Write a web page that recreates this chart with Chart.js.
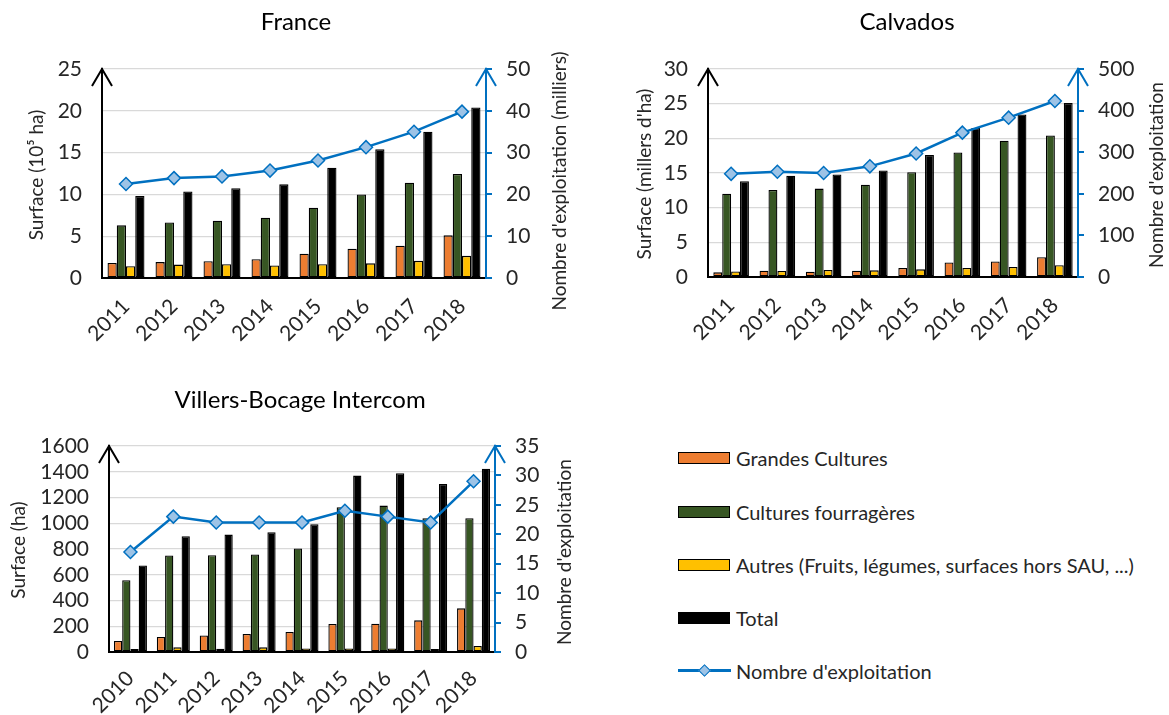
<!DOCTYPE html>
<html lang="fr">
<head>
<meta charset="utf-8">
<title>Surfaces et exploitations</title>
<script src="https://cdn.jsdelivr.net/npm/chart.js@4.4.1/dist/chart.umd.min.js"></script>
<style>
  html, body { margin: 0; padding: 0; background: #fff; }
  body { width: 1169px; height: 715px; position: relative; overflow: hidden;
         font-family: Lato, "Open Sans", sans-serif; }
  .box { position: absolute; }
  .legend { position: absolute; left: 678px; top: 440px; color: #262626; font-size: 20px; }
  .item { position: absolute; left: 0; height: 30px; width: 490px; }
  .sw { position: absolute; left: 0; top: 9px; width: 50px; height: 10px; border: 1.5px solid #000; }
  .lbl { position: absolute; left: 58px; top: 0; line-height: 30px; white-space: nowrap; }
  .ln { position: absolute; left: 0; top: 13px; width: 53px; height: 2.5px; background: #0070C0; }
  .dm { position: absolute; left: 22px; top: 10px; width: 7px; height: 7px; background: #9DC3E6;
        border: 1.3px solid #0070C0; transform: rotate(45deg); }
</style>
</head>
<body>
<div class="box" style="left:0;top:0;width:590px;height:360px"><canvas id="cFrance"></canvas></div>
<div class="box" style="left:600px;top:0;width:569px;height:360px"><canvas id="cCalvados"></canvas></div>
<div class="box" style="left:0;top:370px;width:600px;height:345px"><canvas id="cVillers"></canvas></div>

<div class="legend">
  <div class="item" style="top:3px"><div class="sw" style="background:#ED7D31"></div><div class="lbl">Grandes Cultures</div></div>
  <div class="item" style="top:57px"><div class="sw" style="background:#375623"></div><div class="lbl">Cultures fourragères</div></div>
  <div class="item" style="top:110px"><div class="sw" style="background:#FFC000"></div><div class="lbl">Autres (Fruits, légumes, surfaces hors SAU, ...)</div></div>
  <div class="item" style="top:163px"><div class="sw" style="background:#000"></div><div class="lbl">Total</div></div>
  <div class="item" style="top:216px"><div class="ln"></div><div class="dm"></div><div class="lbl">Nombre d'exploitation</div></div>
</div>

<script>
// ---- France (surfaces en 10^5 ha, exploitations en milliers) ----
const franceYears = ['2011', '2012', '2013', '2014', '2015', '2016', '2017', '2018'];
const franceGrandes = [1.8, 1.9, 2.0, 2.25, 2.9, 3.5, 3.85, 5.1];
const franceFourrageres = [6.3, 6.65, 6.85, 7.2, 8.4, 10.0, 11.4, 12.45];
const franceAutres = [1.4, 1.6, 1.65, 1.5, 1.65, 1.75, 2.05, 2.65];
const franceTotal = [9.8, 10.35, 10.75, 11.2, 13.2, 15.4, 17.5, 20.4];
const franceExploitations = [22.5, 23.9, 24.3, 25.7, 28.1, 31.3, 35.0, 39.8];

// ---- Calvados (surfaces en milliers d'ha) ----
const calvadosYears = ['2011', '2012', '2013', '2014', '2015', '2016', '2017', '2018'];
const calvadosGrandes = [0.67, 0.9, 0.77, 0.9, 1.3, 2.1, 2.25, 2.85];
const calvadosFourrageres = [12.0, 12.55, 12.75, 13.3, 15.1, 17.95, 19.65, 20.4];
const calvadosAutres = [0.8, 0.87, 1.0, 0.96, 1.1, 1.3, 1.45, 1.7];
const calvadosTotal = [13.8, 14.6, 14.8, 15.35, 17.6, 21.5, 23.45, 25.1];
const calvadosExploitations = [248, 253, 250, 266, 297, 347, 383, 423];

// ---- Villers-Bocage Intercom (surfaces en ha) ----
const villersYears = ['2010', '2011', '2012', '2013', '2014', '2015', '2016', '2017', '2018'];
const villersGrandes = [85, 116, 129, 140, 155, 217, 220, 246, 339];
const villersFourrageres = [558, 750, 752, 757, 804, 1124, 1137, 1039, 1039];
const villersAutres = [23, 36, 26, 36, 28, 28, 28, 23, 47];
const villersTotal = [672, 900, 912, 930, 992, 1370, 1388, 1305, 1424];
const villersExploitations = [17, 23, 22, 22, 22, 24, 23, 22, 29];

// ---- Axis ranges ----
const franceLeftAxis = { max: 25, step: 5 };
const franceRightAxis = { max: 50, step: 10 };
const calvadosLeftAxis = { max: 30, step: 5 };
const calvadosRightAxis = { max: 500, step: 100 };
const villersLeftAxis = { max: 1600, step: 200 };
const villersRightAxis = { max: 35, step: 5 };

const FONT = 'Lato, "Open Sans", sans-serif';
const TEXT = '#262626';
const BLUE = '#0070C0';

// Titles, rotated axis titles (both read bottom-to-top) and axis arrowheads
const decorPlugin = {
  id: 'decor',
  afterDraw(chart, args, o) {
    const ctx = chart.ctx;
    const a = chart.chartArea;
    ctx.save();
    // chart title
    ctx.fillStyle = '#000';
    ctx.font = '24px ' + FONT;
    ctx.textAlign = 'center';
    ctx.textBaseline = 'middle';
    ctx.fillText(o.title, o.titleX, o.titleY);
    // axis titles
    ctx.fillStyle = TEXT;
    ctx.font = '19px ' + FONT;
    [[o.leftTitle, o.leftX, o.leftY], [o.rightTitle, o.rightX, o.rightY]].forEach(([t, x, y]) => {
      ctx.save();
      ctx.translate(x, y);
      ctx.rotate(-Math.PI / 2);
      ctx.fillText(t, 0, 0);
      ctx.restore();
    });
    // arrowheads at the top of both value axes
    ctx.lineWidth = 2;
    ctx.lineJoin = 'miter';
    [[a.left, '#000'], [a.right, BLUE]].forEach(([x, col]) => {
      ctx.strokeStyle = col;
      ctx.beginPath();
      ctx.moveTo(x - 10, a.top + 17);
      ctx.lineTo(x, a.top);
      ctx.lineTo(x + 10, a.top + 17);
      ctx.stroke();
    });
    ctx.restore();
  }
};

function barSet(label, data, color) {
  return {
    type: 'bar', label, data, order: 1,
    backgroundColor: color, borderColor: '#000', borderWidth: 1.3, borderSkipped: false,
    yAxisID: 'y', categoryPercentage: 0.77, barPercentage: 1.0
  };
}

const plainNumber = v => String(v);

function makeChart(id, years, grandes, fourr, autres, total, expl, left, right, g) {
  const tickFont = { family: FONT, size: 21 };
  return new Chart(document.getElementById(id), {
    data: {
      labels: years,
      datasets: [
        barSet('Grandes Cultures', grandes, '#ED7D31'),
        barSet('Cultures fourragères', fourr, '#375623'),
        barSet('Autres (Fruits, légumes, surfaces hors SAU, ...)', autres, '#FFC000'),
        barSet('Total', total, '#000000'),
        {
          type: 'line', label: "Nombre d'exploitation", data: expl, order: 0, yAxisID: 'y1',
          borderColor: BLUE, borderWidth: 2.5, tension: 0,
          pointStyle: 'rectRot', pointRadius: 6.5, pointBackgroundColor: '#9DC3E6',
          pointBorderColor: BLUE, pointBorderWidth: 1.5
        }
      ]
    },
    options: {
      responsive: false, animation: false, devicePixelRatio: 1,
      layout: { padding: { top: g.top, left: 0, right: 0, bottom: 0 } },
      plugins: { legend: { display: false }, tooltip: { enabled: false }, decor: g.decor },
      scales: {
        x: {
          grid: { display: false, drawTicks: false },
          border: { display: true, color: '#000', width: 2 },
          ticks: { color: TEXT, font: tickFont, minRotation: 45, maxRotation: 45, autoSkip: false, padding: g.xPad },
          afterFit(s) { s.height = g.xHeight; }
        },
        y: {
          position: 'left', min: 0, max: left.max,
          ticks: { stepSize: left.step, color: TEXT, font: tickFont, padding: 20, autoSkip: false, callback: plainNumber },
          grid: { color: '#d9d9d9', lineWidth: 1.3, drawTicks: false },
          border: { display: true, color: '#000', width: 2 },
          afterFit(s) { s.width = g.leftWidth; }
        },
        y1: {
          position: 'right', min: 0, max: right.max,
          ticks: { stepSize: right.step, color: TEXT, font: tickFont, padding: 14, autoSkip: false, callback: plainNumber },
          grid: { drawOnChartArea: false, drawTicks: true, tickLength: 6, color: BLUE, lineWidth: 2 },
          border: { display: true, color: BLUE, width: 2 },
          afterFit(s) { s.width = g.rightWidth; }
        }
      }
    },
    plugins: [decorPlugin]
  });
}

function sizeCanvas(id, w, h) {
  const c = document.getElementById(id);
  c.width = w; c.height = h; c.style.width = w + 'px'; c.style.height = h + 'px';
}
sizeCanvas('cFrance', 590, 360);
sizeCanvas('cCalvados', 569, 360);
sizeCanvas('cVillers', 600, 345);

makeChart('cFrance', franceYears, franceGrandes, franceFourrageres, franceAutres, franceTotal,
  franceExploitations, franceLeftAxis, franceRightAxis, {
    top: 69, xHeight: 82, leftWidth: 102, rightWidth: 104, xPad: 16,
    decor: { title: 'France', titleX: 296, titleY: 22,
             leftTitle: 'Surface (10⁵ ha)', leftX: 37, leftY: 175,
             rightTitle: "Nombre d'exploitation (milliers)", rightX: 560, rightY: 181 }
  });

makeChart('cCalvados', calvadosYears, calvadosGrandes, calvadosFourrageres, calvadosAutres, calvadosTotal,
  calvadosExploitations, calvadosLeftAxis, calvadosRightAxis, {
    top: 69, xHeight: 83, leftWidth: 108, rightWidth: 91, xPad: 16,
    decor: { title: 'Calvados', titleX: 307, titleY: 22,
             leftTitle: "Surface (millers d'ha)", leftX: 45, leftY: 174,
             rightTitle: "Nombre d'exploitation", rightX: 557, rightY: 175 }
  });

makeChart('cVillers', villersYears, villersGrandes, villersFourrageres, villersAutres, villersTotal,
  villersExploitations, villersLeftAxis, villersRightAxis, {
    top: 76, xHeight: 63, leftWidth: 109, rightWidth: 105, xPad: 14,
    decor: { title: 'Villers-Bocage Intercom', titleX: 300, titleY: 30,
             leftTitle: 'Surface (ha)', leftX: 19, leftY: 180,
             rightTitle: "Nombre d'exploitation", rightX: 565, rightY: 182 }
  });
</script>
</body>
</html>
